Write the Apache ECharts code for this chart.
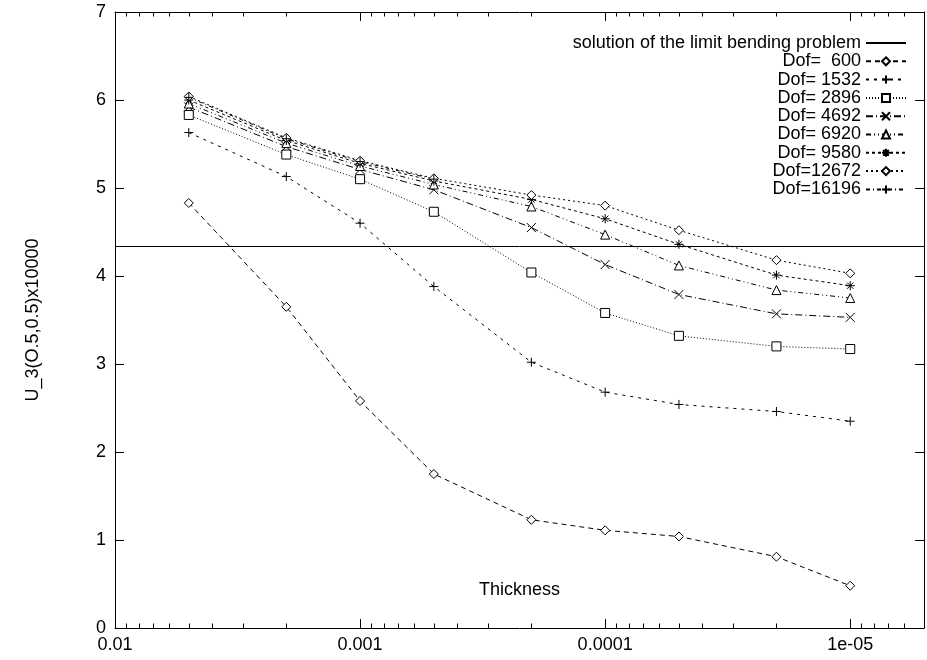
<!DOCTYPE html>
<html>
<head>
<meta charset="utf-8">
<title>Limit bending problem</title>
<script src="https://cdn.jsdelivr.net/npm/echarts@6/dist/echarts.min.js"></script>
<style>
  html, body { margin: 0; padding: 0; background: #fff; }
  #chart { width: 927px; height: 660px; }
</style>
</head>
<body>
<div id="chart"></div>
<script>
// thickness values (x) and the computed displacement for each mesh
const thickness = [0.005, 0.002, 0.001, 0.0005, 0.0002, 0.0001, 0.00005, 0.00002, 0.00001];
const limitValue = 4.34;
const dof600 = [4.83, 3.65, 2.58, 1.75, 1.23, 1.11, 1.04, 0.81, 0.48];
const dof1532 = [5.63, 5.13, 4.60, 3.88, 3.02, 2.68, 2.54, 2.46, 2.35];
const dof2896 = [5.83, 5.38, 5.10, 4.73, 4.04, 3.58, 3.32, 3.20, 3.17];
const dof4692 = [5.92, 5.47, 5.21, 4.98, 4.55, 4.13, 3.79, 3.57, 3.53];
const dof6920 = [5.96, 5.51, 5.25, 5.04, 4.79, 4.47, 4.12, 3.84, 3.75];
const dof9580 = [6.00, 5.54, 5.28, 5.08, 4.87, 4.65, 4.36, 4.01, 3.89];
const dof12672 = [6.04, 5.57, 5.31, 5.11, 4.92, 4.80, 4.52, 4.18, 4.03];
const dof16196 = [6.03, 5.56, 5.30, 5.10];

// axis ticks
const xTickValues = [0.01, 0.001, 0.0001, 0.00001];
const xTickLabels = ["0.01", "0.001", "0.0001", "1e-05"];
const xMinorTicks = [
  0.009, 0.008, 0.007, 0.006, 0.005, 0.004, 0.003, 0.002,
  0.0009, 0.0008, 0.0007, 0.0006, 0.0005, 0.0004, 0.0003, 0.0002,
  0.00009, 0.00008, 0.00007, 0.00006, 0.00005, 0.00004, 0.00003, 0.00002,
  0.000009, 0.000008, 0.000007, 0.000006
];
const xMin = 0.000005;
const xMax = 0.01;
const limitName = "solution of the limit bending problem";

const FONT = "Liberation Sans";
const FS = 18;
const plusPath = "path://M0,5L10,5M5,0L5,10";
const crossPath = "path://M0,0L10,10M10,0L0,10";
const starPath = "path://M0,5L10,5M5,0L5,10M1.5,1.5L8.5,8.5M8.5,1.5L1.5,8.5";

function xLabel(v) {
  for (let i = 0; i < xTickValues.length; i++) {
    if (Math.abs(Math.log10(v) - Math.log10(xTickValues[i])) < 1e-6) return xTickLabels[i];
  }
  return "";
}

function dofSeries(name, values, symbol, size, dash) {
  return {
    name: name,
    type: "line",
    xAxisIndex: 0,
    yAxisIndex: 0,
    data: values.map((v, i) => [thickness[i], v]),
    symbol: symbol,
    symbolSize: size,
    showAllSymbol: true,
    lineStyle: { color: "#000", width: 1, type: dash },
    itemStyle: { color: "#fff", borderColor: "#000", borderWidth: 1 },
    emphasis: { disabled: true },
    z: 3
  };
}

function logAxis(pos, minor) {
  return {
    type: "log",
    logBase: 10,
    position: pos,
    min: xMin,
    max: xMax,
    inverse: true,
    axisLine: { show: !minor, onZero: false, lineStyle: { color: "#000", width: 1 } },
    axisTick: minor
      ? { show: true, inside: true, length: 4.5, customValues: xMinorTicks, lineStyle: { color: "#000" } }
      : { show: true, inside: true, length: 9, lineStyle: { color: "#000" } },
    axisLabel: {
      show: !minor && pos === "bottom",
      formatter: xLabel,
      margin: 8,
      color: "#000",
      fontFamily: FONT,
      fontSize: FS,
      showMinLabel: true,
      showMaxLabel: true
    },
    splitLine: { show: false },
    minorTick: { show: false }
  };
}

const chart = echarts.init(document.getElementById("chart"), null, { renderer: "canvas" });

const xBottom = logAxis("bottom", false);
xBottom.name = "Thickness";
xBottom.nameLocation = "middle";
xBottom.nameGap = -47;
xBottom.nameTextStyle = { color: "#000", fontFamily: FONT, fontSize: FS };

const seriesNames = ["Dof=  600", "Dof= 1532", "Dof= 2896", "Dof= 4692", "Dof= 6920", "Dof= 9580", "Dof=12672", "Dof=16196"];

const option = {
  animation: false,
  backgroundColor: "#fff",
  grid: { left: 115, right: -4, top: 12, bottom: 32, containLabel: false },
  legend: {
    orient: "vertical",
    right: 15,
    top: 29,
    align: "right",
    itemWidth: 40,
    itemHeight: 10,
    itemGap: 0.3,
    selectedMode: false,
    textStyle: { color: "#000", fontFamily: FONT, fontSize: FS },
    data: [{ name: limitName, itemStyle: { color: "rgba(0,0,0,0)", borderWidth: 0, opacity: 0 } }].concat(seriesNames)
  },
  xAxis: [xBottom, logAxis("top", false), logAxis("bottom", true), logAxis("top", true)],
  yAxis: [
    {
      type: "value",
      min: 0,
      max: 7,
      interval: 1,
      name: "U_3(O.5,0.5)x10000",
      nameLocation: "middle",
      nameRotate: 90,
      nameGap: 73,
      nameTextStyle: { color: "#000", fontFamily: FONT, fontSize: FS },
      axisLine: { show: true, lineStyle: { color: "#000", width: 1 } },
      axisTick: { show: true, inside: true, length: 9, lineStyle: { color: "#000" } },
      axisLabel: { color: "#000", fontFamily: FONT, fontSize: FS, margin: 9 },
      splitLine: { show: false }
    },
    {
      type: "value",
      position: "right",
      min: 0,
      max: 7,
      interval: 1,
      axisLine: { show: true, lineStyle: { color: "#000", width: 1 } },
      axisTick: { show: true, inside: true, length: 9, lineStyle: { color: "#000" } },
      axisLabel: { show: false },
      splitLine: { show: false }
    }
  ],
  series: [
    {
      name: limitName,
      type: "line",
      data: [],
      symbol: "none",
      lineStyle: { color: "#000", width: 1, type: "solid" },
      itemStyle: { color: "#000" },
      markLine: {
        silent: true,
        symbol: ["none", "none"],
        label: { show: false },
        lineStyle: { color: "#000", width: 1, type: "solid" },
        data: [{ yAxis: limitValue }]
      }
    },
    dofSeries(seriesNames[0], dof600, "diamond", 9, [5, 4]),
    dofSeries(seriesNames[1], dof1532, plusPath, 9, [3, 5]),
    dofSeries(seriesNames[2], dof2896, "rect", 9, [1, 2]),
    dofSeries(seriesNames[3], dof4692, crossPath, 9, [7, 3, 1, 3]),
    dofSeries(seriesNames[4], dof6920, "triangle", 9, [5, 3, 1, 3, 1, 3]),
    dofSeries(seriesNames[5], dof9580, starPath, 9, [3, 3]),
    dofSeries(seriesNames[6], dof12672, "diamond", 9, [2, 3]),
    dofSeries(seriesNames[7], dof16196, plusPath, 9, [4, 3, 1, 3])
  ]
};

chart.setOption(option);
</script>
</body>
</html>
